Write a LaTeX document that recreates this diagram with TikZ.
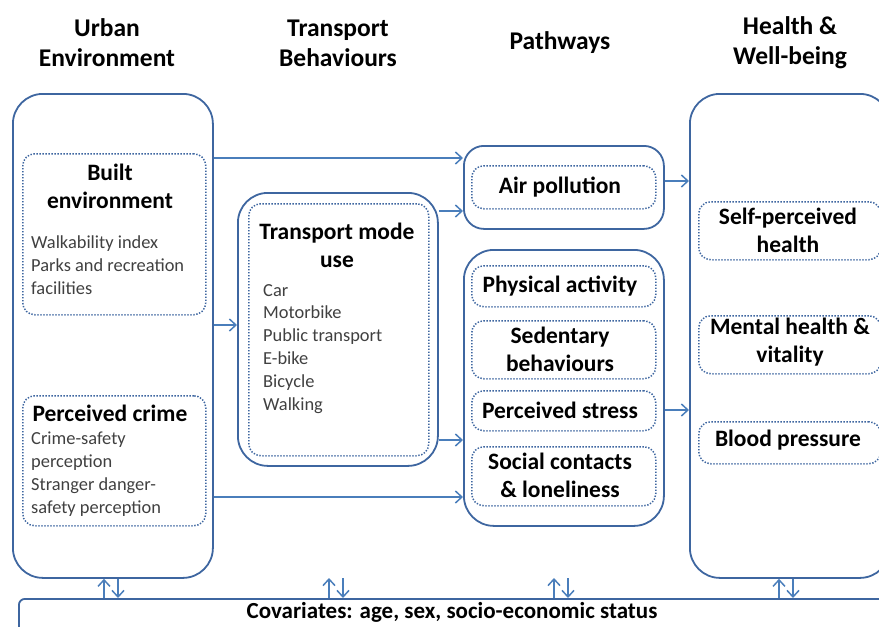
\documentclass[tikz,border=0pt]{standalone}
\usepackage{fontspec}
\setmainfont{Carlito}
\usetikzlibrary{arrows.meta}
\definecolor{boxblue}{RGB}{62,102,160}
\definecolor{arrblue}{RGB}{74,126,187}
\definecolor{itemgray}{RGB}{64,64,64}
\begin{document}
\begin{tikzpicture}[x=1pt,y=-1pt,
 bigbox/.style={draw=boxblue, line width=1.8pt, rounded corners=30pt, anchor=north west, inner sep=0pt},
 midbox/.style={bigbox, rounded corners=20pt},
 dotbox/.style={draw=boxblue, line width=1.5pt, dash pattern=on 1.4pt off 1.6pt, rounded corners=12pt, anchor=north west, inner sep=0pt},
 arr/.style={draw=arrblue, line width=1.5pt, -{Straight Barb[length=6.5pt,width=12pt]}},
 hdr/.style={font=\fontsize{25.5}{30}\selectfont\bfseries, align=center},
 ttl/.style={font=\fontsize{23.5}{28}\selectfont\bfseries, align=center},
 itm/.style={font=\fontsize{18.4}{22.8}\selectfont, text=itemgray, align=left, anchor=north west, inner sep=0pt},
]
\useasboundingbox (0,0) rectangle (879,627);
% headers
\node[hdr] (h1) at (107,43) {Urban\\Environment};
\node[hdr] (h2) at (338,43) {Transport\\Behaviours};
\node[hdr] (h3) at (560,43) {Pathways};
\node[hdr] (h4) at (790,43) {Health \&\\Well-being};
% big boxes
\node[bigbox, minimum width=200, minimum height=484] (ue) at (12,93) {};
\node[bigbox, minimum width=200, minimum height=273] (tr) at (237,192) {};
\node[midbox, minimum width=200, minimum height=83] (ap) at (463,145) {};
\node[bigbox, minimum width=200, minimum height=276] (pw) at (463,249) {};
\node[bigbox, minimum width=200, minimum height=484] (hw) at (689,93) {};
\node[draw=boxblue, line width=1.8pt, rounded corners=6pt, anchor=north west, minimum width=910, minimum height=80] (cov) at (18,598) {};
% dotted boxes
\node[dotbox, minimum width=183, minimum height=161] (be) at (22,153) {};
\node[dotbox, minimum width=183, minimum height=130] (pc) at (22,395) {};
\node[dotbox, minimum width=180, minimum height=252] (tm) at (248,203) {};
\node[dotbox, minimum width=184, minimum height=43] (apd) at (471,165) {};
\node[dotbox, minimum width=184, minimum height=41] (pa) at (471,265) {};
\node[dotbox, minimum width=184, minimum height=58] (sb) at (471,320) {};
\node[dotbox, minimum width=184, minimum height=40] (ps) at (471,390) {};
\node[dotbox, minimum width=184, minimum height=59] (sc) at (471,446) {};
\node[dotbox, minimum width=182, minimum height=58] (sp) at (698,201) {};
\node[dotbox, minimum width=182, minimum height=58] (mh) at (698,315) {};
\node[dotbox, minimum width=182, minimum height=42] (bp) at (698,421) {};
% titles
\node[ttl] (tbe) at (110,186) {Built\\environment};
\node[ttl] (tpc) at (110,413) {Perceived crime};
\node[ttl] (ttm) at (337,245) {Transport mode\\use};
\node[ttl] (tap) at (560,187) {Air pollution};
\node[ttl] (tpa) at (560,286) {Physical activity};
\node[ttl] (tsb) at (560,349) {Sedentary\\behaviours};
\node[ttl] (tps) at (560,410) {Perceived stress};
\node[ttl] (tsc) at (560,475) {Social contacts\\\& loneliness};
\node[ttl] (tsp) at (788,230) {Self-perceived\\health};
\node[ttl] (tmh) at (790,342) {Mental health \&\\vitality};
\node[ttl] (tbp) at (788,440) {Blood pressure};
\node[font=\fontsize{23}{26}\selectfont\bfseries] (tcov) at (452,612) {Covariates: age, sex, socio-economic status};
% items
\node[itm] (ibe) at (31,236) {Walkability index\\Parks and recreation\\facilities};
\node[itm] (ipc) at (31,432) {Crime-safety\\perception\\Stranger danger-\\safety perception};
\node[itm] (itm) at (263,284) {Car\\Motorbike\\Public transport\\E-bike\\Bicycle\\Walking};
% arrows
\draw[arr] (ue.east |- 0,158) -- (ap.west |- 0,158);
\draw[arr] (tr.east |- 0,211) -- (ap.west |- 0,211);
\draw[arr] (ue.east |- 0,325) -- (tr.west |- 0,325);
\draw[arr] (tr.east |- 0,440) -- (pw.west |- 0,440);
\draw[arr] (ue.east |- 0,497) -- (pw.west |- 0,497);
\draw[arr] (ap.east |- 0,181) -- (hw.west |- 0,181);
\draw[arr] (pw.east |- 0,410) -- (hw.west |- 0,410);
% covariate arrows
\coordinate (c2) at (0,578);
\draw[arr] (cov.north -| 104,0) -- (ue.south -| 104,0);
\draw[arr] (ue.south -| 118,0) -- (cov.north -| 118,0);
\draw[arr] (cov.north -| 329,0) -- (c2 -| 329,0);
\draw[arr] (c2 -| 343,0) -- (cov.north -| 343,0);
\draw[arr] (cov.north -| 554,0) -- (c2 -| 554,0);
\draw[arr] (c2 -| 568,0) -- (cov.north -| 568,0);
\draw[arr] (cov.north -| 779,0) -- (hw.south -| 779,0);
\draw[arr] (hw.south -| 793,0) -- (cov.north -| 793,0);
\end{tikzpicture}
\end{document}
